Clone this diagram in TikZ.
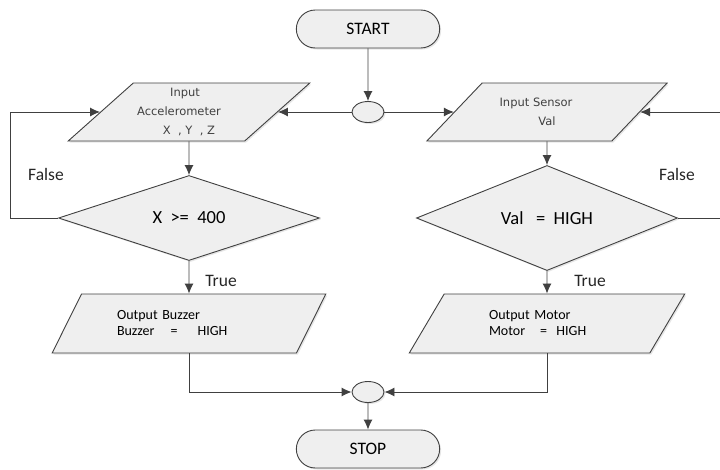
\documentclass[tikz,border=0pt]{standalone}
\usepackage{fontspec}
\setmainfont{Carlito}
\newfontfamily\tahfont{DejaVu Sans}
\usepackage{tikz}
\usetikzlibrary{shapes.geometric, shapes.misc, arrows.meta, shadows}
\definecolor{linegray}{HTML}{404040}
\definecolor{boxgray}{HTML}{EFEFEF}
\tikzset{
	flow/.style={draw=linegray, line width=0.9pt, fill=boxgray,
		drop shadow={shadow xshift=1.5pt, shadow yshift=-1.5pt, opacity=0.2}},
	term/.style={flow, rounded rectangle, minimum width=150pt, minimum height=38pt, font=\fontsize{17.5}{19}\selectfont},
	merge/.style={flow, ellipse, minimum width=32pt, minimum height=21pt, inner sep=0pt},
	io/.style={flow, trapezium, trapezium left angle=52, trapezium right angle=128,
		trapezium stretches=true, inner sep=0pt},
	cond/.style={flow, diamond, minimum width=261pt, minimum height=76pt, inner sep=0pt,
		font=\fontsize{18.5}{20}\selectfont},
	lbl/.style={font=\fontsize{17.5}{19}\selectfont, text=black!85},
	conn/.style={draw=linegray, line width=0.9pt, -{Latex[length=10pt,width=9pt]}}
}
\begin{document}
\begin{tikzpicture}[x=1pt, y=-1pt]
	\useasboundingbox (0,0) rectangle (720,469);

	\node[term] (start) at (368,29) {START};
	\node[merge] (m1) at (368,112) {};

	\node[io, minimum width=242pt, minimum height=58pt, align=center,
		font=\tahfont\fontsize{11.5}{19}\selectfont, text=black!75] (acc) at (189,112)
		{\hspace{-8pt}Input\\\hspace{-20pt}Accelerometer\\X~~,~Y~~,~Z};
	\node[io, minimum width=241pt, minimum height=58pt, align=center,
		font=\tahfont\fontsize{11.5}{19}\selectfont, text=black!75] (sen) at (547,112)
		{\hspace{-22pt}Input Sensor\\Val};

	\node[cond] (cx) at (189,218) {X~~>=~~400};
	\node[cond] (cv) at (547,218) {Val~~~=~~HIGH};

	\node[io, minimum width=274pt, minimum height=59pt, text width=144pt, align=left,
		font=\fontsize{14}{16}\selectfont] (buz) at (189,323.5)
		{Output Buzzer\\Buzzer\hspace{16pt}=\hspace{20pt}HIGH};
	\node[io, minimum width=276pt, minimum height=59pt, text width=116pt, align=left,
		font=\fontsize{14}{16}\selectfont] (mot) at (547,323.5)
		{Output Motor\\Motor\hspace{15pt}=~~HIGH};

	\node[merge] (m2) at (368,392) {};
	\node[term] (stop) at (368,449) {STOP};

	\coordinate (lf) at (10,112);
	\coordinate (rf) at (720,112);

	\draw[conn] (start) -- (m1);
	\draw[conn] (m1) -- (acc.right side);
	\draw[conn] (m1) -- (sen.left side);
	\draw[conn] (acc.south) -- (cx.north);
	\draw[conn] (sen.south) -- (cv.north);
	\draw[conn] (cx.west) -| (lf) -- (acc.left side);
	\draw[conn] (cv.east) -| (rf) -- (sen.right side);
	\draw[conn] (cx.south) -- (buz.north);
	\draw[conn] (cv.south) -- (mot.north);
	\draw[conn] (buz.south) |- (m2.west);
	\draw[conn] (mot.south) |- (m2.east);
	\draw[conn] (m2) -- (stop);

	\node[lbl] (f1) at (46,174) {False};
	\node[lbl] (f2) at (677,174) {False};
	\node[lbl] (t1) at (221,281) {True};
	\node[lbl] (t2) at (590,281) {True};
\end{tikzpicture}
\end{document}
